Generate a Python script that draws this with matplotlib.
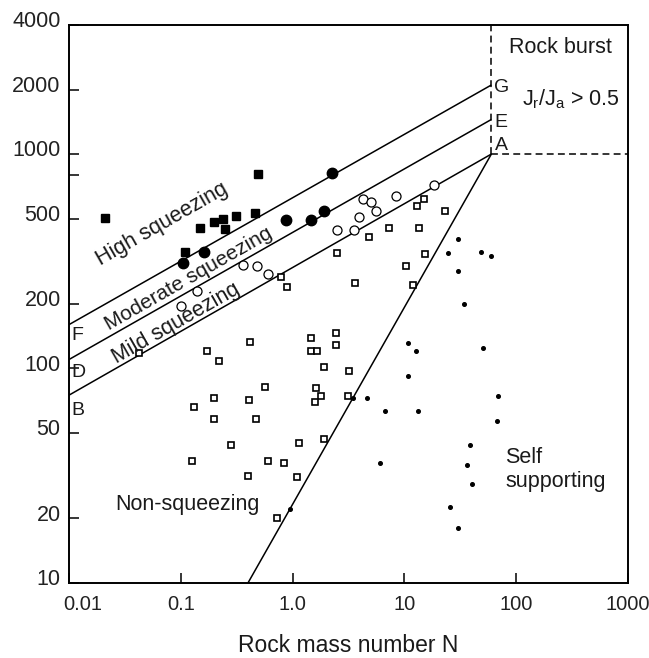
import numpy as np
import matplotlib
matplotlib.use("Agg")
import matplotlib.pyplot as plt
import matplotlib.transforms as mtransforms
from matplotlib.ticker import FixedLocator, NullFormatter, NullLocator

plt.rcParams['font.family'] = ['Liberation Sans', 'DejaVu Sans']
plt.rcParams['mathtext.default'] = 'regular'

# boundary lines (N, Q) -- B-A, D-E, F-G and the non-squeezing / self supporting divide
line_BA = ([0.01, 60], [75, 1000])
line_DE = ([0.01, 60], [110, 1450])
line_FG = ([0.01, 60], [160, 2100])
line_split = ([0.4, 60], [10, 1000])
burst_vert = ([60, 60], [1000, 4000])
burst_horiz = ([60, 1000], [1000, 1000])

# high squeezing (filled squares)
high_n = [0.021, 0.15, 0.2, 0.24, 0.31, 0.25, 0.46, 0.49, 0.11]
high_q = [505, 450, 480, 500, 515, 445, 530, 810, 350]

# moderate squeezing (filled circles)
mod_n = [0.105, 0.16, 0.88, 1.47, 1.9, 2.25]
mod_q = [310, 350, 490, 495, 540, 820]

# mild squeezing (open circles)
mild_n = [0.1, 0.14, 0.36, 0.48, 0.6, 2.5, 3.55, 3.95, 4.3, 5.0, 5.6, 8.5, 18.5]
mild_q = [195, 230, 305, 300, 277, 440, 440, 510, 620, 600, 545, 640, 720]

# non-squeezing (open squares)
non_n = [0.79, 0.9, 2.5, 15, 13, 23, 4.85, 7.3, 13.5, 15.3, 10.4, 3.6, 12,
         0.42, 0.17, 0.22, 1.47, 2.45, 2.45, 1.47, 1.66, 1.92, 0.57, 1.63,
         1.8, 1.6, 0.2, 0.41, 0.13, 0.2, 0.47, 1.92, 1.15, 0.28, 0.127, 0.6,
         0.83, 0.4, 1.1, 0.042, 0.73, 3.2, 3.1]
non_q = [268, 240, 345, 620, 570, 545, 410, 450, 450, 340, 300, 250, 245,
         133, 120, 108, 138, 147, 129, 121, 120, 102, 82, 81,
         74, 70, 73, 71, 66, 58, 58, 47, 45, 44, 37, 37,
         36, 31.5, 31, 118, 20, 97, 74]

# self supporting (small dots)
self_n = [30, 24.5, 48, 60, 30, 34, 10.8, 12.7, 50, 10.8, 3.5, 4.65, 6.7,
          13.3, 69, 67, 39, 36, 40, 25.7, 30, 6.1, 0.95]
self_q = [400, 347, 350, 336, 286, 200, 132, 120, 124, 92, 73, 73, 63,
          63, 74, 57, 44, 35.5, 29, 22.6, 18, 36, 22]

x_ticks = [0.01, 0.1, 1, 10, 100, 1000]
x_labels = ['0.01', '0.1', '1.0', '10', '100', '1000']
y_ticks = [10, 20, 50, 100, 200, 500, 1000, 2000, 4000]
y_labels = ['10', '20', '50', '100', '200', '500', '1000', '2000', '4000']

fig = plt.figure(figsize=(6.49, 6.58), dpi=100)
ax = fig.add_axes([0.1063, 0.1144, 0.8613, 0.8476])
ax.set_xscale('log')
ax.set_yscale('log')
ax.set_xlim(0.01, 1000)
ax.set_ylim(10, 4000)

lw = 1.1
for xs, ys in (line_BA, line_DE, line_FG, line_split):
    ax.plot(xs, ys, color='black', lw=lw, solid_capstyle='butt')
for xs, ys in (burst_vert, burst_horiz):
    ax.plot(xs, ys, color='black', lw=1.1, dashes=(4.5, 2.8))

ax.plot(high_n, high_q, ls='none', marker='s', ms=5.5, color='black')
ax.plot(mod_n, mod_q, ls='none', marker='o', ms=7.5, color='black')
ax.plot(mild_n, mild_q, ls='none', marker='o', ms=6.5, mfc='white',
        mec='black', mew=0.9)
ax.plot(non_n, non_q, ls='none', marker='s', ms=4.6, mfc='white',
        mec='black', mew=1.2)
ax.plot(self_n, self_q, ls='none', marker='o', ms=2.6, color='black')

# region labels
txt = dict(color='#1a1a1a', fontsize=15.5)
rot = dict(rotation=29.7, ha='center', va='center', rotation_mode='anchor')
ax.text(0.0685, 469, 'High squeezing', **rot, **txt)
ax.text(0.117, 262, 'Moderate squeezing', **rot, color='#1a1a1a', fontsize=15)
ax.text(0.0913, 162, 'Mild squeezing', **rot, **txt)
ax.text(0.115, 23.1, 'Non-squeezing', ha='center', va='center', **txt)
ax.text(80, 33.8, 'Self\nsupporting', ha='left', va='center',
        linespacing=1.15, **txt)
ax.text(250, 3150, 'Rock burst', ha='center', va='center', **txt)
ax.text(113, 1690, r'J$_r$/J$_a$ > 0.5', ha='left', va='baseline',
        color='#1a1a1a', fontsize=15.5)

lt = dict(color='#1a1a1a', fontsize=14, ha='left', va='baseline')
ax.text(63.5, 1940, 'G', **lt)
ax.text(63.5, 1333, 'E', **lt)
ax.text(64, 1050, 'A', **lt)
ax.text(0.0105, 136, 'F', **lt)
ax.text(0.0105, 91.5, 'D', **lt)
ax.text(0.0105, 60.8, 'B', **lt)

ax.set_xticks(x_ticks)
ax.set_xticklabels(x_labels)
ax.set_yticks(y_ticks)
ax.set_yticklabels(y_labels)
ax.xaxis.set_minor_locator(NullLocator())
ax.yaxis.set_minor_locator(FixedLocator([800]))
ax.yaxis.set_minor_formatter(NullFormatter())
ax.tick_params(axis='both', which='both', direction='in', length=7,
               width=1.1, colors='black', labelcolor='#222222')
ax.tick_params(axis='x', labelsize=14.5, pad=9)
ax.tick_params(axis='y', labelsize=15.5, pad=6)
for s in ax.spines.values():
    s.set_linewidth(1.4)

# y labels sit a little above their ticks in the original; first x label nudged right
up = mtransforms.ScaledTranslation(0, 4 / 72, fig.dpi_scale_trans)
for lab in ax.get_yticklabels():
    lab.set_transform(lab.get_transform() + up)
right = mtransforms.ScaledTranslation(10 / 72, 0, fig.dpi_scale_trans)
first = ax.get_xticklabels()[0]
first.set_transform(first.get_transform() + right)

ax.set_xlabel('Rock mass number N', fontsize=16.5, color='#1a1a1a',
              labelpad=14)

fig.savefig('out.png', dpi=100)
